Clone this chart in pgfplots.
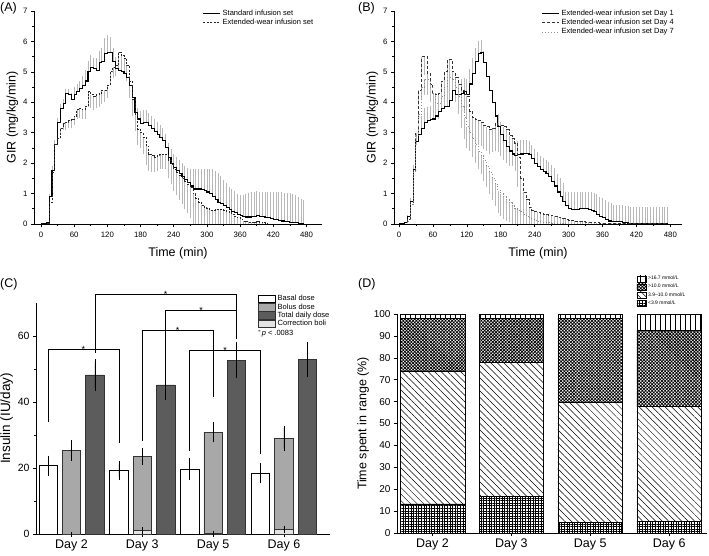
\documentclass[border=0pt]{standalone}
\usepackage{fontspec}
\setmainfont{Liberation Sans}
\usepackage{pgfplots}
\pgfplotsset{compat=1.18}
\usepackage{pgfplotstable}
\usetikzlibrary{patterns,patterns.meta}

\definecolor{bolus}{HTML}{A8A8A8}
\definecolor{total}{HTML}{5C5C5C}
\definecolor{corr}{HTML}{E4E4E4}
\definecolor{errg}{HTML}{B8B8B8}

\pgfplotsset{
  origin/.style={scale only axis, anchor=south west,
    axis x line*=bottom, axis y line*=left, tick align=outside,
    axis line style={line width=0.6pt}, tick style={line width=0.6pt, black},
    major tick length=3pt, minor tick length=1.8pt,
    /pgf/number format/assume math mode=true},
  linelegend/.style={legend image code/.code={\draw[##1] (0pt,0pt) -- (17pt,0pt);}},
  errplot/.style={draw=none, mark=none, forget plot, error bars/.cd, y dir=#1, y explicit,
    error mark=none, error bar style={draw=errg, line width=0.75pt}},
}

\pgfplotstableread{
t s es d ed
0 0 0 0 0
5 0 0 0 0
10 0.05 0.02 0.02 0.02
15 0.9 0.1 0.7 0.1
20 1.75 0.15 1.7 0.1
25 2.6 0.15 2.6 0.1
30 3.35 0.15 2.8 0.2
35 3.8 0.15 3.15 0.2
40 3.95 0.15 3.3 0.2
45 4.3 0.15 3.35 0.25
50 4.25 0.2 3.4 0.25
55 4.1 0.2 3.45 0.3
60 4.25 0.25 3.55 0.3
65 4.35 0.25 3.75 0.3
70 4.45 0.25 3.8 0.3
75 4.55 0.3 3.75 0.3
80 4.7 0.35 3.85 0.4
85 5.0 0.35 4.35 0.5
90 5.15 0.4 4.25 0.45
95 5.1 0.35 4.2 0.45
100 5.05 0.4 4.25 0.45
105 5.3 0.4 4.3 0.45
110 5.35 0.45 4.4 0.45
115 5.6 0.5 4.4 0.4
120 5.65 0.55 4.55 0.4
125 5.65 0.5 5.0 0.4
130 5.35 0.45 5.15 0.35
135 5.1 0.4 5.2 0.35
140 5.05 0.35 5.65 0.35
145 5.0 0.35 5.55 0.4
150 4.95 0.3 5.45 0.4
155 4.8 0.3 5.2 0.5
160 4.55 0.3 4.7 0.55
165 4.15 0.3 4.1 0.55
170 3.65 0.35 3.6 0.55
175 3.45 0.35 3.1 0.5
180 3.3 0.4 3.0 0.5
185 3.35 0.4 2.85 0.55
190 3.35 0.4 2.55 0.6
195 3.25 0.4 2.3 0.55
200 3.15 0.4 2.25 0.55
205 3.05 0.4 2.2 0.5
210 2.95 0.4 2.25 0.5
215 2.85 0.4 2.3 0.5
220 2.75 0.4 2.3 0.5
225 2.5 0.45 2.3 0.5
230 2.2 0.45 2.1 0.6
235 2.0 0.45 1.95 0.65
240 1.85 0.45 1.8 0.7
245 1.75 0.45 1.7 0.75
250 1.65 0.45 1.6 0.8
255 1.55 0.45 1.5 0.85
260 1.45 0.45 1.4 0.9
265 1.35 0.5 1.3 0.95
270 1.25 0.55 1.2 1.0
275 1.15 0.65 1.0 1.0
280 1.15 0.65 0.85 0.85
285 1.15 0.65 0.72 0.72
290 1.12 0.68 0.62 0.62
295 1.1 0.7 0.55 0.55
300 1.05 0.75 0.5 0.5
305 1.0 0.8 0.45 0.45
310 0.9 0.9 0.45 0.45
315 0.8 0.95 0.48 0.48
320 0.72 0.95 0.48 0.48
325 0.67 0.9 0.47 0.47
330 0.6 0.85 0.45 0.45
335 0.55 0.8 0.42 0.42
340 0.48 0.75 0.38 0.38
345 0.42 0.73 0.32 0.32
350 0.37 0.7 0.25 0.25
355 0.32 0.68 0.2 0.2
360 0.28 0.67 0.15 0.15
365 0.25 0.7 0.1 0.1
370 0.23 0.75 0.07 0.07
375 0.23 0.78 0.05 0.05
380 0.25 0.8 0.04 0.04
385 0.26 0.8 0.06 0.06
390 0.27 0.8 0.07 0.07
395 0.26 0.8 0.06 0.06
400 0.25 0.8 0.04 0.04
405 0.22 0.83 0.02 0.02
410 0.2 0.85 0 0
415 0.18 0.87 0 0
420 0.16 0.89 0 0
425 0.14 0.9 0 0
430 0.12 0.92 0 0
435 0.1 0.94 0 0
440 0.08 0.95 0 0
445 0.07 0.95 0 0
450 0.06 0.95 0 0
455 0.05 0.93 0 0
460 0.04 0.9 0 0
465 0.02 0.88 0 0
470 0.01 0.8 0 0
475 0 0.78 0 0
}\tabA

\pgfplotstableread{
t s es da ea db eb
0 0 0 0 0 0 0
5 0 0 0 0 0 0
10 0.05 0.03 0 0 0 0
15 0.25 0.05 0.15 0.1 0.1 0.05
20 0.75 0.1 0.7 0.2 0.65 0.2
25 1.8 0.15 1.75 0.3 1.7 0.3
30 2.7 0.2 3.0 0.4 2.9 0.3
35 2.95 0.3 4.4 0.5 3.6 0.3
40 3.15 0.4 5.5 0.6 4.5 0.4
45 3.35 0.45 5.5 0.6 4.75 0.5
50 3.4 0.45 4.95 0.6 4.75 0.5
55 3.42 0.45 4.6 0.5 4.5 0.5
60 3.45 0.45 4.3 0.5 4.3 0.5
65 3.55 0.45 4.25 0.5 3.95 0.5
70 3.7 0.45 4.3 0.5 3.95 0.5
75 3.8 0.45 4.7 0.5 4.2 0.5
80 3.85 0.45 5.0 0.5 4.5 0.5
85 3.85 0.45 5.4 0.6 4.8 0.5
90 4.05 0.45 5.4 0.6 4.8 0.5
95 4.4 0.35 5.0 0.6 4.75 0.5
100 4.25 0.4 4.8 0.6 4.5 0.5
105 4.25 0.45 4.6 0.6 4.2 0.6
110 4.3 0.45 4.4 0.6 3.85 0.7
115 4.35 0.45 4.25 0.6 3.5 0.7
120 4.25 0.5 4.2 0.7 3.2 0.7
125 4.6 0.5 3.7 0.8 3.0 0.6
130 4.95 0.5 3.5 0.8 2.8 0.6
135 5.35 0.45 3.45 0.8 2.6 0.6
140 5.6 0.4 3.4 0.8 2.4 0.6
145 5.65 0.4 3.35 0.8 2.25 0.6
150 5.3 0.4 3.25 0.8 2.1 0.7
155 4.85 0.4 3.2 0.8 1.9 0.7
160 4.4 0.4 3.1 0.8 1.7 0.7
165 4.0 0.4 3.15 0.8 1.5 0.7
170 3.55 0.4 3.3 0.9 1.3 0.7
175 3.2 0.4 3.25 0.9 1.1 0.75
180 2.95 0.4 3.25 1.0 1.0 0.75
185 2.75 0.4 3.2 1.1 0.9 0.75
190 2.55 0.4 3.1 1.1 0.8 0.7
195 2.4 0.4 2.9 1.0 0.7 0.65
200 2.3 0.4 2.8 0.9 0.6 0.6
205 2.25 0.45 2.65 0.9 0.5 0.5
210 2.27 0.45 2.2 1.0 0.45 0.45
215 2.3 0.45 1.5 1.2 0.4 0.4
220 2.32 0.45 1.05 1.05 0.32 0.32
225 2.32 0.45 0.8 0.8 0.25 0.25
230 2.28 0.45 0.55 0.55 0.2 0.2
235 2.15 0.45 0.45 0.45 0.15 0.15
240 2.0 0.45 0.4 0.4 0.12 0.12
245 1.9 0.45 0.38 0.38 0.1 0.1
250 1.8 0.45 0.35 0.35 0.07 0.07
255 1.72 0.45 0.32 0.32 0.06 0.06
260 1.65 0.45 0.3 0.3 0.05 0.05
265 1.55 0.5 0.28 0.28 0.04 0.04
270 1.4 0.55 0.27 0.27 0.03 0.03
275 1.25 0.6 0.25 0.25 0.03 0.03
280 1.05 0.6 0.22 0.22 0.02 0.02
285 0.9 0.6 0.2 0.2 0.02 0.02
290 0.75 0.6 0.18 0.18 0.01 0.01
295 0.6 0.45 0.15 0.15 0 0
300 0.52 0.53 0.13 0.13 0 0
305 0.48 0.57 0.12 0.12 0 0
310 0.47 0.58 0.1 0.1 0 0
315 0.48 0.57 0.09 0.09 0 0
320 0.5 0.55 0.08 0.08 0 0
325 0.5 0.55 0.07 0.07 0 0
330 0.5 0.55 0.06 0.06 0 0
335 0.48 0.57 0.05 0.05 0 0
340 0.45 0.6 0.05 0.05 0 0
345 0.4 0.62 0.04 0.04 0 0
350 0.32 0.65 0.04 0.04 0 0
355 0.25 0.65 0.03 0.03 0 0
360 0.2 0.65 0.03 0.03 0 0
365 0.14 0.65 0.03 0.03 0 0
370 0.1 0.62 0.02 0.02 0 0
375 0.08 0.6 0.02 0.02 0 0
380 0.07 0.55 0.02 0.02 0 0
385 0.07 0.55 0.02 0.02 0 0
390 0.07 0.55 0.02 0.02 0 0
395 0.06 0.55 0.02 0.02 0 0
400 0.05 0.55 0.02 0.02 0 0
405 0.03 0.55 0.02 0.02 0 0
410 0.02 0.55 0.02 0.02 0 0
415 0 0.57 0.02 0.02 0 0
420 0 0.57 0.02 0.02 0 0
425 0 0.57 0.02 0.02 0 0
430 0 0.56 0.02 0.02 0 0
435 0 0.56 0.02 0.02 0 0
440 0 0.56 0.02 0.02 0 0
445 0 0.55 0.02 0.02 0 0
450 0 0.55 0.02 0.02 0 0
455 0 0.55 0.02 0.02 0 0
460 0 0.55 0.02 0.02 0 0
465 0 0.55 0.02 0.02 0 0
470 0 0.55 0.02 0.02 0 0
475 0 0.55 0.02 0.02 0 0
}\tabB

\pgfplotstableread{
x low inr hi vhi
0 13.3 60.7 24.0 2.0
1 16.7 61.3 20.0 2.0
2 5.0 54.5 38.5 2.0
3 5.2 52.5 34.8 7.5
}\tabD

\begin{document}
\begin{tikzpicture}
\useasboundingbox (0pt,0pt) rectangle (709pt,555pt);

% ---------------- Panel A ----------------
\begin{axis}[origin, at={(34pt,331pt)}, width=288pt, height=213pt,
  xmin=-12.6, xmax=508, ymin=0, ymax=7,
  xtick={0,60,...,480}, ytick={0,1,...,7}, minor x tick num=1, minor y tick num=1,
  tick label style={font=\fontsize{7.8}{9}\selectfont},
  xticklabel style={yshift=-1.5pt},
  xlabel={Time (min)}, ylabel={GIR (mg/kg/min)},
  label style={font=\fontsize{12.5}{14}\selectfont},
  xlabel style={yshift=-3pt}, ylabel style={yshift=-2pt},
  linelegend, legend cell align=left,
  legend style={at={(axis cs:290,7.15)}, anchor=north west, draw=none, fill=none,
    font=\fontsize{7.5}{8.5}\selectfont, inner sep=1pt, row sep=-1.5pt}]
\addplot[errplot=plus] table[x=t, y=s, y error=es] {\tabA};
\addplot[errplot=minus] table[x=t, y=d, y error=ed] {\tabA};
\addplot[const plot, mark=none, black, line width=1.1pt] table[x=t, y=s] {\tabA};
\addlegendentry{Standard infusion set}
\addplot[const plot, mark=none, black!85, line width=0.9pt, dash pattern=on 2pt off 1.5pt] table[x=t, y=d] {\tabA};
\addlegendentry{Extended-wear infusion set}
\end{axis}

% ---------------- Panel B ----------------
\begin{axis}[origin, at={(394pt,331pt)}, width=288pt, height=213pt,
  xmin=-8.8, xmax=500.6, ymin=0, ymax=7,
  xtick={0,60,...,480}, ytick={0,1,...,7}, minor x tick num=1, minor y tick num=1,
  tick label style={font=\fontsize{7.8}{9}\selectfont},
  xticklabel style={yshift=-1.5pt},
  xlabel={Time (min)}, ylabel={GIR (mg/kg/min)},
  label style={font=\fontsize{12.5}{14}\selectfont},
  xlabel style={yshift=-3pt}, ylabel style={yshift=-2pt},
  linelegend, legend cell align=left,
  legend style={at={(axis cs:250,7.15)}, anchor=north west, draw=none, fill=none,
    font=\fontsize{7.5}{8.5}\selectfont, inner sep=1pt, row sep=-1.5pt}]
\addplot[errplot=plus] table[x=t, y=s, y error=es] {\tabB};
\addplot[errplot=minus] table[x=t, y=da, y error=ea] {\tabB};
\addplot[errplot=minus] table[x=t, y=db, y error=eb] {\tabB};
\addplot[const plot, mark=none, black, line width=1.1pt] table[x=t, y=s] {\tabB};
\addlegendentry{Extended-wear infusion set Day 1}
\addplot[const plot, mark=none, black!80, line width=0.9pt, dash pattern=on 3pt off 2pt] table[x=t, y=da] {\tabB};
\addlegendentry{Extended-wear infusion set Day 4}
\addplot[const plot, mark=none, black!45, line width=0.9pt, dash pattern=on 1pt off 2pt] table[x=t, y=db] {\tabB};
\addlegendentry{Extended-wear infusion set Day 7}
\end{axis}

% ---------------- Panel C ----------------
\begin{axis}[origin, at={(36pt,21pt)}, width=294pt, height=231pt, clip=false,
  xmin=-0.5, xmax=3.65, ymin=0, ymax=70,
  xtick={0,1,2,3}, xticklabels={Day 2,Day 3,Day 5,Day 6},
  ytick={0,20,40,60}, minor y tick num=1,
  yticklabel style={font=\fontsize{10.5}{12}\selectfont},
  xticklabel style={font=\fontsize{12.5}{14}\selectfont, yshift=1pt},
  ylabel={Insulin (IU/day)}, ylabel style={font=\fontsize{13.5}{15}\selectfont, yshift=-2pt},
  legend cell align=left,
  legend image code/.code={\draw[#1, line width=0.5pt] (0pt,-3.8pt) rectangle (17pt,3.8pt);},
  legend style={at={(axis cs:2.62,73.3)}, anchor=north west, draw=none, fill=none,
    font=\fontsize{7.5}{8.5}\selectfont, inner sep=1pt, row sep=-2.6pt}]
\addplot[ybar, bar width=0.26, bar shift=0pt, fill=white, draw=black, line width=0.6pt,
  error bars/.cd, y dir=both, y explicit, error mark options={mark size=2.8pt, line width=0.6pt, black},
  error bar style={line width=0.6pt, black}]
  coordinates {(-0.33,20.7) +- (0,2.2) (0.67,19.3) +- (0,2.0) (1.67,19.6) +- (0,2.5) (2.67,18.4) +- (0,2.2)};
\addlegendentry{Basal dose}
\addplot[ybar, bar width=0.26, bar shift=0pt, fill=bolus, draw=black!80, line width=0.6pt,
  error bars/.cd, y dir=both, y explicit, error mark options={mark size=2.8pt, line width=0.6pt, black},
  error bar style={line width=0.6pt, black}]
  coordinates {(0,25.3) +- (0,2.2) (1,23.5) +- (0,1.7) (2,30.9) +- (0,2.3) (3,29.0) +- (0,3.0)};
\addlegendentry{Bolus dose}
\addplot[ybar, bar width=0.26, bar shift=0pt, fill=total, draw=black!80, line width=0.6pt,
  error bars/.cd, y dir=both, y explicit, error mark options={mark size=2.8pt, line width=0.6pt, black},
  error bar style={line width=0.6pt, black}]
  coordinates {(0.33,48.2) +- (0,4.0) (1.33,45.2) +- (0,3.8) (2.33,52.6) +- (0,4.6) (3.33,52.8) +- (0,4.5)};
\addlegendentry{Total daily dose}
\addplot[ybar, bar width=0.26, bar shift=0pt, fill=corr, draw=black!80, line width=0.6pt,
  error bars/.cd, y dir=both, y explicit, error mark options={mark size=1.8pt, line width=0.6pt, black},
  error bar style={line width=0.6pt, black}]
  coordinates {(0,0.0) +- (0,0) (1,1.0) +- (0,0.5) (2,0.3) +- (0,0.2) (3,1.5) +- (0,0.5)};
\addlegendentry{Correction boli}
% significance brackets
\addplot[sharp plot, mark=none, black, line width=0.6pt, forget plot] coordinates {(-0.33,34) (-0.33,56) (0.67,56) (0.67,27.7)};
\addplot[sharp plot, mark=none, black, line width=0.6pt, forget plot] coordinates {(0.33,54.9) (0.33,72.6) (2.33,72.6) (2.33,59.2)};
\addplot[sharp plot, mark=none, black, line width=0.6pt, forget plot] coordinates {(1.33,49.5) (1.33,67.8) (2.33,67.8) (2.33,59.2)};
\addplot[sharp plot, mark=none, black, line width=0.6pt, forget plot] coordinates {(1.0,28.2) (1.0,61.7) (2.0,61.7) (2.0,41.4)};
\addplot[sharp plot, mark=none, black, line width=0.6pt, forget plot] coordinates {(1.67,25.2) (1.67,55.6) (2.67,55.6) (2.67,24.2)};
\node[anchor=base, font=\fontsize{9}{10}\selectfont, inner sep=0pt] at (axis cs:0.17,55.0) {*};
\node[anchor=base, font=\fontsize{9}{10}\selectfont, inner sep=0pt] at (axis cs:1.33,71.6) {*};
\node[anchor=base, font=\fontsize{9}{10}\selectfont, inner sep=0pt] at (axis cs:1.83,66.8) {*};
\node[anchor=base, font=\fontsize{9}{10}\selectfont, inner sep=0pt] at (axis cs:1.50,60.7) {*};
\node[anchor=base, font=\fontsize{9}{10}\selectfont, inner sep=0pt] at (axis cs:2.17,54.6) {*};
\node[anchor=west, font=\fontsize{7.5}{8.5}\selectfont, inner sep=0pt] at (axis cs:2.625,60.6) {$^{*}$\textit{p} < .0083};
\end{axis}

% ---------------- Panel D ----------------
\begin{axis}[origin, at={(397pt,22pt)}, width=310pt, height=219pt,
  ybar stacked, bar width=0.82,
  xmin=-0.45, xmax=3.48, ymin=0, ymax=100,
  xtick={0,1,2,3}, xticklabels={Day 2,Day 3,Day 5,Day 6},
  ytick={0,10,...,100},
  yticklabel style={font=\fontsize{10}{12}\selectfont},
  xticklabel style={font=\fontsize{12.5}{14}\selectfont, yshift=1pt},
  ylabel={Time spent in range (\%)}, ylabel style={font=\fontsize{12.5}{14}\selectfont, yshift=-2pt},
  reverse legend, legend cell align=left,
  legend image code/.code={\draw[#1, line width=0.4pt] (0pt,-3pt) rectangle (9pt,3pt);},
  legend style={at={(axis cs:2.58,118.5)}, anchor=north west, draw=none, fill=none,
    font=\fontsize{5}{6}\selectfont, inner sep=0.5pt, row sep=-1pt}]
\addplot[draw=black, line width=0.6pt, pattern={Hatch[angle=0, distance=2.6pt, line width=0.4pt]}] table[x=x, y=low] {\tabD};
\addlegendentry{<3.9 mmol/L}
\addplot[draw=black, line width=0.6pt, pattern={Lines[angle=-45, distance=4.6pt, line width=0.5pt]}] table[x=x, y=inr] {\tabD};
\addlegendentry{3.9–10.0 mmol/L}
\addplot[draw=black, line width=0.6pt, pattern={Hatch[angle=45, distance=2.3pt, line width=0.75pt]}] table[x=x, y=hi] {\tabD};
\addlegendentry{>10.0 mmol/L}
\addplot[draw=black, line width=0.6pt, pattern={Lines[angle=90, distance=5pt, line width=0.5pt]}] table[x=x, y=vhi] {\tabD};
\addlegendentry{>16.7 mmol/L}
\end{axis}

% panel letters
\node[anchor=north west, font=\fontsize{12.5}{14}\selectfont, inner sep=0pt] at (0pt,553pt) {(A)};
\node[anchor=north west, font=\fontsize{12.5}{14}\selectfont, inner sep=0pt] at (358pt,553pt) {(B)};
\node[anchor=north west, font=\fontsize{12.5}{14}\selectfont, inner sep=0pt] at (0pt,277pt) {(C)};
\node[anchor=north west, font=\fontsize{12.5}{14}\selectfont, inner sep=0pt] at (358pt,277pt) {(D)};
\end{tikzpicture}
\end{document}
